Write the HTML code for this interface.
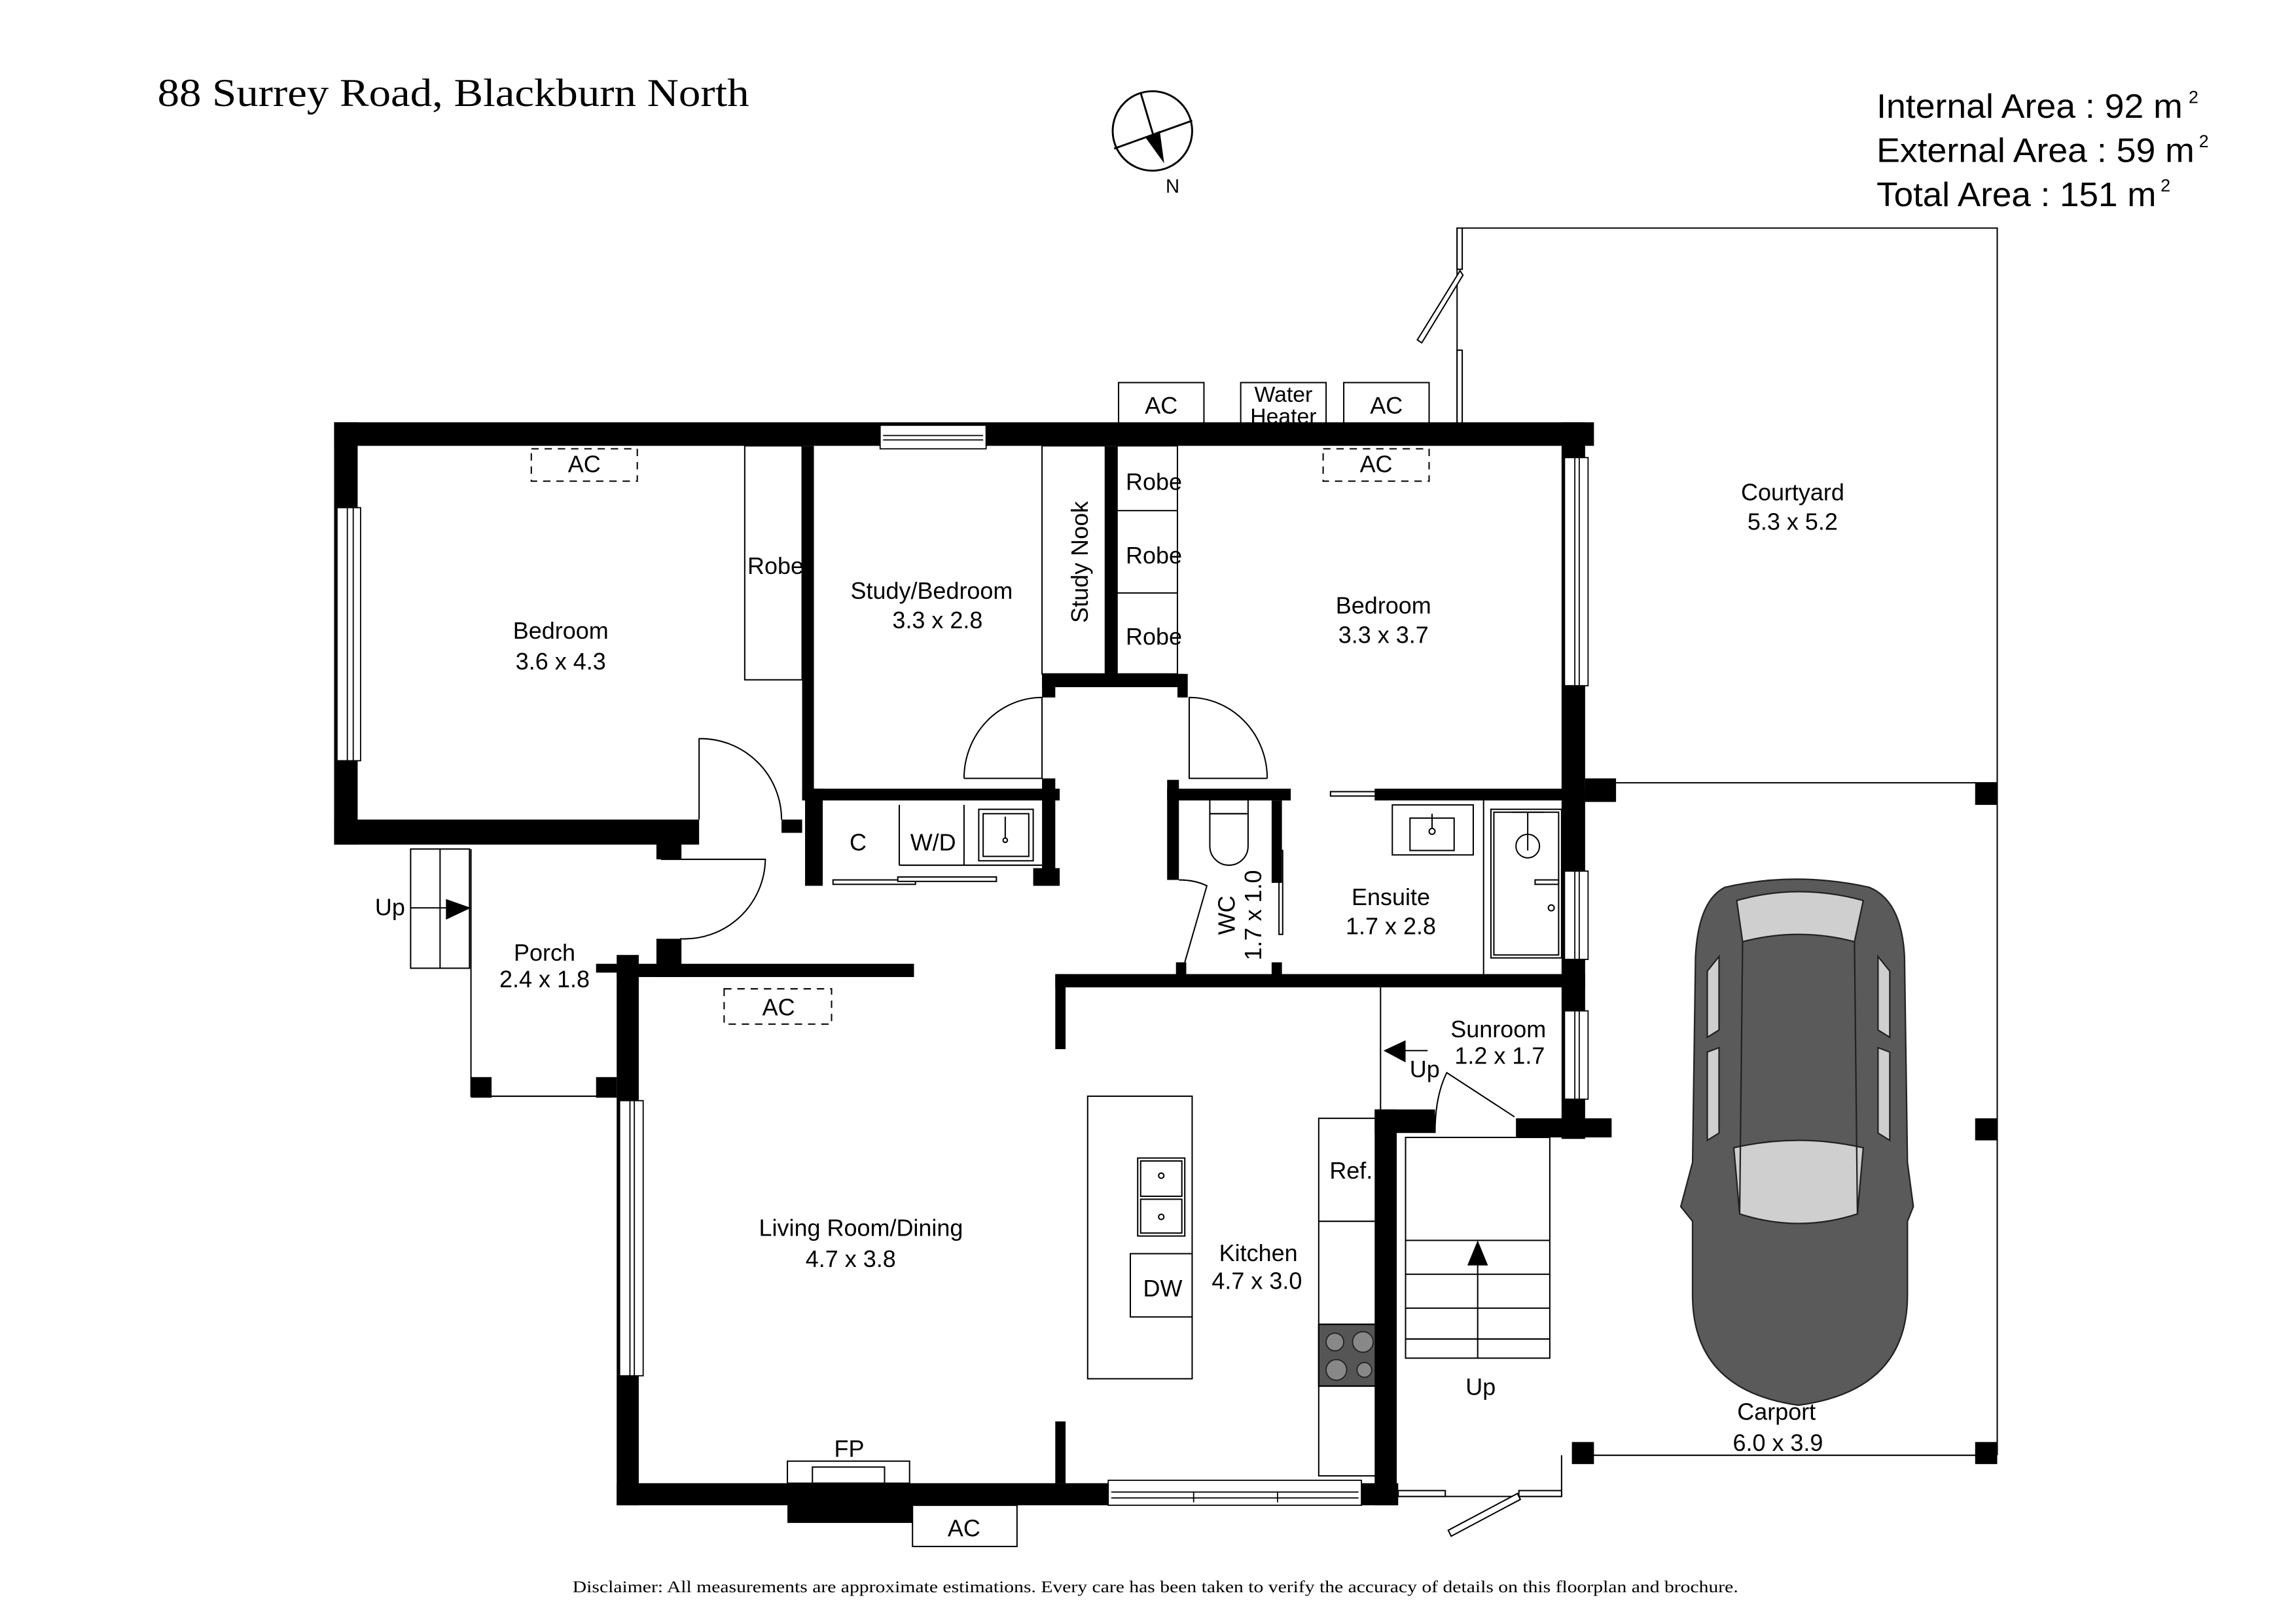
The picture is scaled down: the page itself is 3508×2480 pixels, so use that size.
<!DOCTYPE html>
<html><head><meta charset="utf-8"><style>
html,body{margin:0;padding:0;background:#fff;}
svg{display:block;}
text{font-family:"Liberation Sans",sans-serif;fill:#000;}
.r{font-size:16px;text-anchor:middle;}
</style></head><body>
<svg width="3508" height="2480" viewBox="0 0 1560 1103" preserveAspectRatio="none" xmlns="http://www.w3.org/2000/svg">
<rect width="1560" height="1103" fill="#fff"/>

<!-- header -->
<text x="107" y="72" style="font-family:'Liberation Serif',serif;font-size:27px" textLength="402" lengthAdjust="spacingAndGlyphs">88 Surrey Road, Blackburn North</text>
<text x="1275" y="80" style="font-size:23px" textLength="208" lengthAdjust="spacingAndGlyphs">Internal Area : 92 m</text>
<text x="1487" y="70" style="font-size:12px">2</text>
<text x="1275" y="110" style="font-size:23px" textLength="216" lengthAdjust="spacingAndGlyphs">External Area : 59 m</text>
<text x="1494" y="100" style="font-size:12px">2</text>
<text x="1275" y="140" style="font-size:23px" textLength="190" lengthAdjust="spacingAndGlyphs">Total Area : 151 m</text>
<text x="1468" y="130" style="font-size:12px">2</text>

<!-- compass -->
<g stroke="#000" stroke-width="1.3" fill="none">
<circle cx="783" cy="89" r="27"/>
<line x1="775" y1="63" x2="786" y2="100"/>
<line x1="757" y1="101" x2="810" y2="82"/>
</g>
<polygon points="778,93 788,89 791,111" fill="#000"/>
<text x="792" y="131" style="font-size:13px">N</text>

<!-- courtyard / carport outlines -->
<g stroke="#000" stroke-width="0.9" fill="none">
<polyline points="990,288 990,155 1357,155 1357,989"/>
<line x1="1098" y1="532" x2="1357" y2="532"/>
<line x1="1077" y1="989" x2="1357" y2="989"/>
<rect x="990" y="155" width="3.5" height="28" fill="#fff"/>
<rect x="990" y="238" width="3.5" height="50" fill="#fff"/>
<polygon points="992,184 994,187 966,233 963,231" fill="#fff"/>
<polyline points="950,1017 1061,1017 1061,989"/>
<rect x="950" y="1013" width="32" height="4" fill="#fff"/>
<rect x="1032" y="1013" width="29" height="4" fill="#fff"/>
<polygon points="1031,1015 1033,1019 986,1044 984,1040" fill="#fff"/>
</g>
<rect x="1342" y="532" width="15" height="15" fill="#000"/>
<rect x="1342" y="760" width="15" height="15" fill="#000"/>
<rect x="1342" y="980" width="15" height="15" fill="#000"/>
<rect x="1068" y="980" width="15" height="15" fill="#000"/>
<rect x="1077" y="529" width="21" height="16" fill="#000"/>

<!-- top external boxes -->
<g stroke="#000" stroke-width="0.9" fill="#fff">
<rect x="760" y="260" width="58" height="28"/>
<rect x="843" y="260" width="58" height="28"/>
<rect x="913" y="260" width="58" height="28"/>
<rect x="620" y="1023" width="71" height="28"/>
</g>
<text class="r" x="789" y="281">AC</text>
<text class="r" x="872" y="273" style="font-size:15px">Water</text>
<text class="r" x="872" y="288" style="font-size:15px">Heater</text>
<text class="r" x="942" y="281">AC</text>
<text class="r" x="655" y="1044">AC</text>

<!-- dashed AC -->
<g stroke="#000" stroke-width="0.9" fill="none" stroke-dasharray="5,4">
<rect x="361" y="305" width="72" height="22"/>
<rect x="899" y="305" width="72" height="22"/>
<rect x="492" y="672" width="73" height="24"/>
</g>
<text class="r" x="397" y="321">AC</text>
<text class="r" x="935" y="321">AC</text>
<text class="r" x="529" y="690">AC</text>

<!-- fixtures outlines -->
<g stroke="#000" stroke-width="0.9" fill="none">
<rect x="506" y="303" width="39" height="159"/>
<rect x="708" y="303" width="43" height="155"/>
<rect x="759" y="303" width="41" height="155"/>
<line x1="759" y1="347" x2="800" y2="347"/>
<line x1="759" y1="403" x2="800" y2="403"/>
<line x1="611" y1="547" x2="611" y2="588"/>
<line x1="655" y1="547" x2="655" y2="588"/>
<line x1="611" y1="588" x2="708" y2="588"/>
<rect x="665" y="550" width="37" height="35"/>
<rect x="668" y="553" width="31" height="29"/>
<circle cx="683" cy="571" r="1.5"/>
<line x1="683" y1="555" x2="683" y2="570"/>
<rect x="566" y="598" width="56" height="3" fill="#fff"/>
<rect x="610" y="596" width="67" height="3" fill="#fff"/>
<path d="M475,557 L475,502 A55,55 0 0 1 531,557"/>
<path d="M449,584 L520,584 A55,55 0 0 1 462,638"/>
<path d="M655,529 L708,529 L708,474 A53,55 0 0 0 655,529"/>
<path d="M861,529 L808,529 L808,474 A53,55 0 0 1 861,529"/>
<path d="M801,598 Q812,598 820,602 L805,654"/>
<rect x="869" y="578" width="2.5" height="57" fill="#fff"/>
<rect x="904" y="538" width="52" height="3" fill="#fff"/>
<rect x="822" y="543" width="26" height="10"/>
<path d="M822,553 L848,553 L848,575 A13,13 0 0 1 822,575 Z"/>
<rect x="946" y="547" width="55" height="34"/>
<rect x="958" y="556" width="30" height="22"/>
<circle cx="973" cy="565" r="2"/>
<line x1="973" y1="553" x2="973" y2="563"/>
<line x1="1008" y1="544" x2="1008" y2="662"/>
<rect x="1013" y="550" width="48" height="101"/>
<rect x="1015" y="552" width="44" height="97"/>
<ellipse cx="1038" cy="575" rx="8" ry="8"/>
<line x1="1038" y1="552" x2="1038" y2="578"/>
<line x1="1027" y1="552" x2="1049" y2="552"/>
<rect x="1043" y="598" width="16" height="3"/>
<circle cx="1054" cy="617" r="2"/>
<rect x="279" y="577" width="40" height="81"/>
<line x1="299" y1="577" x2="299" y2="658"/>
<line x1="279" y1="617" x2="310" y2="617"/>
<polyline points="320,577 320,745 419,745"/>
<line x1="938" y1="671" x2="938" y2="760"/>
<line x1="955" y1="714" x2="970" y2="714"/>
<path d="M975,770 Q975,745 983,729 L1029,759"/>
<rect x="955" y="773" width="98" height="150"/>
<line x1="955" y1="843" x2="1053" y2="843"/>
<line x1="955" y1="866" x2="1053" y2="866"/>
<line x1="955" y1="889" x2="1053" y2="889"/>
<line x1="955" y1="910" x2="1053" y2="910"/>
<line x1="1004" y1="850" x2="1004" y2="923"/>
<rect x="739" y="745" width="71" height="192"/>
<rect x="773" y="787" width="32" height="53"/>
<rect x="775" y="789" width="28" height="24"/>
<rect x="775" y="815" width="28" height="23"/>
<circle cx="789" cy="799" r="1.8"/>
<circle cx="789" cy="827" r="1.8"/>
<rect x="768" y="852" width="42" height="43"/>
<rect x="896" y="760" width="42" height="243"/>
<line x1="896" y1="830" x2="938" y2="830"/>
<rect x="535" y="993" width="83" height="15"/>
<rect x="552" y="997" width="49" height="11"/>
</g>
<polygon points="303,611 320,617 303,625" fill="#000"/>
<polygon points="940,714 955,707 955,722" fill="#000"/>
<polygon points="1004,843 997,860 1011,860" fill="#000"/>
<rect x="896" y="900" width="42" height="42" fill="#555" stroke="#000"/>
<g fill="#888" stroke="#222" stroke-width="0.8">
<circle cx="907" cy="912" r="6"/><circle cx="926" cy="912" r="7"/>
<circle cx="908" cy="931" r="7"/><circle cx="927" cy="931" r="5"/>
</g>

<!-- walls -->
<g fill="#000">
<rect x="227" y="287" width="856" height="16"/>
<rect x="227" y="287" width="16" height="287"/>
<rect x="227" y="557" width="248" height="17"/>
<rect x="446" y="565" width="17" height="19"/>
<rect x="446" y="638" width="17" height="26"/>
<rect x="419" y="649" width="15" height="374"/>
<rect x="419" y="655" width="202" height="9"/>
<rect x="405" y="655" width="29" height="6"/>
<rect x="320" y="732" width="14" height="14"/>
<rect x="405" y="732" width="14" height="14"/>
<rect x="531" y="557" width="14" height="9"/>
<rect x="545" y="303" width="8" height="240"/>
<rect x="545" y="536" width="175" height="8"/>
<rect x="547" y="536" width="12" height="66"/>
<rect x="702" y="590" width="18" height="12"/>
<rect x="708" y="458" width="9" height="16"/>
<rect x="708" y="529" width="9" height="73"/>
<rect x="751" y="303" width="8" height="160"/>
<rect x="708" y="458" width="97" height="9"/>
<rect x="800" y="458" width="7" height="16"/>
<rect x="793" y="530" width="8" height="68"/>
<rect x="793" y="536" width="84" height="8"/>
<rect x="864" y="544" width="7" height="56"/>
<rect x="799" y="654" width="7" height="10"/>
<rect x="864" y="654" width="7" height="10"/>
<rect x="934" y="536" width="143" height="8"/>
<rect x="1061" y="287" width="16" height="487"/>
<rect x="717" y="662" width="360" height="9"/>
<rect x="717" y="662" width="7" height="51"/>
<rect x="717" y="966" width="7" height="42"/>
<rect x="934" y="754" width="15" height="269"/>
<rect x="934" y="754" width="41" height="16"/>
<rect x="1030" y="760" width="65" height="13"/>
<rect x="419" y="1008" width="334" height="15"/>
<rect x="535" y="1008" width="85" height="27"/>
<rect x="925" y="1008" width="25" height="15"/>
</g>

<!-- windows -->
<g fill="#fff" stroke="#000" stroke-width="0.8">
<rect x="598" y="289" width="72" height="16"/>
<line x1="600" y1="296" x2="668" y2="296"/><line x1="600" y1="299" x2="668" y2="299"/>
<rect x="229" y="345" width="16" height="172"/>
<line x1="236" y1="345" x2="236" y2="517"/><line x1="240" y1="345" x2="240" y2="517"/>
<rect x="1063" y="311" width="16" height="155"/>
<line x1="1070" y1="311" x2="1070" y2="466"/><line x1="1073" y1="311" x2="1073" y2="466"/>
<rect x="1063" y="592" width="16" height="60"/>
<line x1="1070" y1="592" x2="1070" y2="652"/><line x1="1073" y1="592" x2="1073" y2="652"/>
<rect x="1063" y="687" width="16" height="60"/>
<line x1="1070" y1="687" x2="1070" y2="747"/><line x1="1073" y1="687" x2="1073" y2="747"/>
<rect x="421" y="748" width="16" height="187"/>
<line x1="428" y1="748" x2="428" y2="935"/><line x1="431" y1="748" x2="431" y2="935"/>
<rect x="753" y="1006" width="172" height="17"/>
<line x1="755" y1="1014" x2="923" y2="1014"/><line x1="755" y1="1018" x2="923" y2="1018"/>
<line x1="811" y1="1014" x2="811" y2="1021"/><line x1="868" y1="1014" x2="868" y2="1021"/>
</g>

<!-- car -->
<g stroke="#222" stroke-width="1">
<path d="M1172,603 Q1220,592 1270,603 Q1292,612 1294,650 L1296,790 L1300,820 L1296,830 L1296,880 Q1296,945 1222,955 Q1150,945 1150,880 L1150,830 L1142,820 L1150,790 L1152,650 Q1154,612 1172,603 Z" fill="#5a5a5a"/>
<path d="M1180,612 Q1222,600 1266,612 L1260,640 Q1222,630 1184,640 Z" fill="#cfcfcf"/>
<path d="M1178,780 Q1222,770 1266,780 L1262,825 Q1222,838 1182,825 Z" fill="#cfcfcf"/>
<path d="M1160,660 L1168,650 L1168,700 L1160,705 Z" fill="#cfcfcf"/>
<path d="M1284,660 L1276,650 L1276,700 L1284,705 Z" fill="#cfcfcf"/>
<path d="M1160,715 L1168,712 L1168,770 L1160,775 Z" fill="#cfcfcf"/>
<path d="M1284,715 L1276,712 L1276,770 L1284,775 Z" fill="#cfcfcf"/>
<line x1="1184" y1="640" x2="1182" y2="825" fill="none"/>
<line x1="1260" y1="640" x2="1262" y2="825" fill="none"/>
</g>

<!-- labels -->
<text class="r" x="381" y="434">Bedroom</text>
<text class="r" x="381" y="455">3.6 x 4.3</text>
<text class="r" x="527" y="390">Robe</text>
<text class="r" x="633" y="407">Study/Bedroom</text>
<text class="r" x="637" y="427">3.3 x 2.8</text>
<text class="r" transform="translate(739,382) rotate(-90)">Study Nook</text>
<text class="r" x="784" y="333">Robe</text>
<text class="r" x="784" y="383">Robe</text>
<text class="r" x="784" y="438">Robe</text>
<text class="r" x="940" y="417">Bedroom</text>
<text class="r" x="940" y="437">3.3 x 3.7</text>
<text class="r" x="1218" y="340">Courtyard</text>
<text class="r" x="1218" y="360">5.3 x 5.2</text>
<text class="r" x="583" y="578">C</text>
<text class="r" x="634" y="578">W/D</text>
<text class="r" transform="translate(839,622) rotate(-90)">WC</text>
<text class="r" transform="translate(857,622) rotate(-90)">1.7 x 1.0</text>
<text class="r" x="945" y="615">Ensuite</text>
<text class="r" x="945" y="635">1.7 x 2.8</text>
<text class="r" x="265" y="622">Up</text>
<text class="r" x="370" y="653">Porch</text>
<text class="r" x="370" y="671">2.4 x 1.8</text>
<text class="r" x="1018" y="705">Sunroom</text>
<text class="r" x="1019" y="723">1.2 x 1.7</text>
<text class="r" x="968" y="732">Up</text>
<text class="r" x="585" y="840">Living Room/Dining</text>
<text class="r" x="578" y="861">4.7 x 3.8</text>
<text class="r" x="855" y="857">Kitchen</text>
<text class="r" x="854" y="876">4.7 x 3.0</text>
<text class="r" x="790" y="881">DW</text>
<text class="r" x="918" y="801">Ref.</text>
<text class="r" x="1006" y="948">Up</text>
<text class="r" x="1207" y="965">Carport</text>
<text class="r" x="1208" y="986">6.0 x 3.9</text>
<text class="r" x="577" y="990">FP</text>
<text x="785" y="1082" style="font-family:'Liberation Serif',serif;font-size:11.5px;text-anchor:middle" textLength="792" lengthAdjust="spacingAndGlyphs">Disclaimer: All measurements are approximate estimations. Every care has been taken to verify the accuracy of details on this floorplan and brochure.</text>
</svg>
</body></html>
